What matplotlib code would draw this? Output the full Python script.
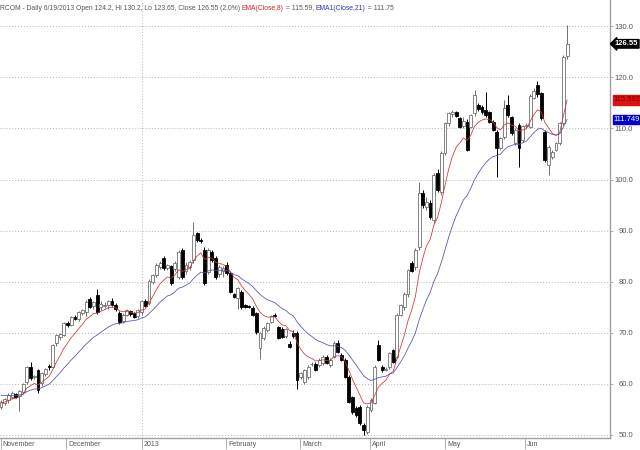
import matplotlib
matplotlib.use('Agg')
import matplotlib.pyplot as plt
import matplotlib.transforms as mtransforms
from matplotlib import font_manager
import numpy as np

# ---- data ----
opens = [55.5, 56.3, 56.8, 57.4, 58.0, 57.6, 58.5, 60.4, 63.3, 61.3,
         62.7, 60.2, 61.9, 63.5, 63.4, 68.0, 69.2, 69.6, 71.9, 71.6,
         73.1, 72.7, 73.8, 74.0, 76.6, 75.2, 77.4, 75.0, 75.3, 75.4,
         76.3, 75.5, 73.9, 72.4, 73.5, 74.2, 73.8, 73.2, 74.0, 76.3,
         75.8, 80.0, 81.3, 82.8, 84.6, 82.6, 83.0, 82.5, 81.0, 86.2,
         82.0, 82.8, 84.2, 89.5, 88.2, 86.2, 81.9, 85.9, 84.6, 81.6,
         82.0, 83.3, 81.7, 77.6, 76.8, 78.0, 75.4, 75.3, 74.8, 73.8,
         67.0, 69.0, 70.5, 72.2, 73.4, 71.1, 70.8, 69.3, 67.8, 70.0,
         70.0, 61.4, 60.4, 61.4, 63.8, 63.9, 63.7, 64.0, 65.3, 63.7,
         65.3, 68.0, 65.7, 64.7, 61.4, 57.4, 55.3, 55.5, 52.0, 50.6,
         54.9, 56.3, 67.6, 63.3, 62.8, 63.3, 66.6, 65.3, 73.5, 75.0,
         77.5, 83.7, 82.8, 86.8, 97.4, 94.6, 95.4, 92.0, 101.3, 97.6,
         105.2, 111.0, 112.8, 113.2, 112.0, 110.4, 111.2, 110.3, 113.0, 114.6,
         114.2, 113.6, 113.2, 111.3, 109.3, 106.2, 108.3, 114.6, 112.2, 107.1,
         110.7, 107.7, 110.5, 110.3, 116.0, 118.5, 116.9, 109.3, 102.8, 104.4,
         105.8, 107.1, 111.0, 124.2]
highs = [56.8, 57.3, 58.3, 58.6, 58.3, 58.9, 60.2, 63.5, 64.3, 61.8,
         63.0, 62.3, 63.2, 63.8, 67.8, 69.8, 70.0, 72.2, 72.3, 73.2,
         73.4, 74.2, 74.6, 76.5, 77.1, 76.2, 78.6, 76.2, 76.0, 76.4,
         76.8, 75.8, 74.3, 73.8, 74.6, 74.5, 74.0, 74.6, 76.4, 76.7,
         80.5, 81.6, 83.6, 84.0, 85.0, 83.5, 83.3, 84.0, 86.3, 86.6,
         83.8, 84.2, 91.7, 89.8, 88.6, 86.8, 86.6, 86.3, 85.0, 83.2,
         83.0, 83.8, 82.0, 77.8, 78.9, 78.3, 75.6, 75.5, 75.3, 74.1,
         70.2, 71.3, 72.2, 73.4, 73.8, 71.4, 71.2, 71.0, 68.3, 70.6,
         70.3, 62.4, 62.9, 63.6, 64.2, 64.2, 65.0, 65.6, 65.6, 65.0,
         68.3, 68.6, 66.0, 65.0, 61.7, 57.7, 55.6, 55.8, 52.3, 55.8,
         57.2, 63.6, 68.6, 63.6, 63.3, 66.3, 66.9, 73.8, 75.7, 78.0,
         82.5, 84.0, 86.5, 99.5, 98.0, 96.5, 96.0, 101.3, 102.0, 105.5,
         111.2, 113.2, 113.6, 113.5, 112.3, 112.3, 111.8, 112.8, 117.5, 115.0,
         114.6, 117.1, 113.5, 111.6, 109.6, 108.4, 115.6, 116.6, 112.5, 110.0,
         111.0, 110.7, 111.0, 116.7, 118.0, 119.3, 117.2, 109.6, 106.7, 105.7,
         107.4, 111.3, 124.3, 130.2]
lows = [55.0, 55.8, 56.2, 57.0, 57.3, 54.6, 58.0, 60.0, 60.8, 60.9,
        58.2, 59.5, 61.5, 62.8, 63.2, 67.5, 68.6, 69.3, 71.2, 71.3,
        72.5, 72.3, 73.5, 73.2, 74.8, 74.6, 73.6, 74.5, 74.8, 74.6,
        75.2, 74.2, 71.8, 72.0, 73.2, 73.2, 72.8, 72.8, 73.5, 75.0,
        75.5, 79.5, 81.0, 82.5, 82.3, 82.3, 79.3, 82.0, 80.5, 80.5,
        81.5, 82.3, 83.7, 87.8, 87.6, 79.4, 81.5, 83.8, 80.6, 81.0,
        81.0, 81.4, 77.8, 76.9, 74.7, 74.6, 74.9, 74.8, 73.2, 69.8,
        64.9, 68.6, 70.2, 71.9, 73.0, 68.7, 69.0, 69.0, 67.0, 69.0,
        59.0, 61.0, 60.0, 61.0, 63.5, 62.6, 63.3, 63.7, 63.8, 63.4,
        65.0, 66.0, 64.4, 61.1, 56.2, 54.2, 53.6, 52.0, 49.9, 50.2,
        54.5, 56.0, 64.4, 62.4, 62.5, 63.0, 64.0, 65.0, 73.2, 74.5,
        77.0, 81.8, 82.3, 86.2, 94.4, 94.0, 92.2, 91.5, 97.5, 97.0,
        104.8, 110.5, 112.3, 112.2, 110.0, 110.0, 105.5, 110.0, 112.5, 113.5,
        112.9, 112.3, 111.0, 109.4, 100.5, 105.8, 108.0, 112.3, 108.8, 106.8,
        102.4, 107.4, 110.1, 110.0, 115.7, 116.2, 111.7, 103.5, 100.9, 104.0,
        105.5, 106.8, 110.7, 123.65]
closes = [56.5, 57.0, 57.8, 58.3, 57.5, 58.6, 60.0, 63.3, 61.2, 61.6,
          58.8, 62.1, 63.0, 63.3, 67.6, 69.6, 69.8, 72.0, 71.5, 73.0,
          72.7, 74.0, 74.5, 76.1, 75.0, 76.0, 74.0, 75.6, 75.5, 76.2,
          75.4, 74.6, 72.2, 73.5, 74.4, 73.6, 73.0, 74.4, 76.2, 75.3,
          80.2, 81.3, 83.2, 83.7, 82.7, 83.2, 79.8, 83.6, 85.8, 81.0,
          83.3, 83.8, 89.1, 88.2, 88.0, 79.7, 86.2, 84.2, 81.0, 82.8,
          82.6, 81.7, 78.0, 77.1, 78.8, 75.0, 75.1, 75.0, 73.5, 70.2,
          70.0, 71.0, 72.0, 73.2, 73.2, 69.0, 69.2, 70.8, 67.2, 69.3,
          60.8, 62.1, 62.7, 63.3, 63.9, 62.8, 64.7, 65.3, 64.0, 64.7,
          68.0, 66.2, 64.7, 61.4, 56.5, 54.5, 53.9, 52.3, 51.0, 55.5,
          56.8, 63.3, 64.7, 62.7, 62.9, 66.0, 64.3, 73.5, 75.4, 77.5,
          82.2, 82.0, 86.2, 97.4, 95.0, 95.6, 92.7, 100.9, 97.9, 105.2,
          111.0, 113.0, 113.3, 112.4, 110.3, 111.5, 105.8, 112.6, 116.5, 113.8,
          113.2, 112.6, 111.3, 109.7, 106.2, 108.1, 114.0, 112.6, 109.1, 109.7,
          106.2, 110.4, 110.7, 116.4, 117.4, 116.8, 112.0, 103.8, 106.4, 105.4,
          107.1, 111.0, 124.0, 126.55]

ema8_seed = 56.2     # indicator values just before the first visible bar
ema21_seed = 57.9

title_main = 'RCOM - Daily 6/19/2013 Open 124.2, Hi 130.2, Lo 123.65, Close 126.55 (2.0%) '
title_ema8 = 'EMA(Close,8)'
title_ema8_val = ' = 115.59, '
title_ema21 = 'EMA1(Close,21)'
title_ema21_val = ' = 111.75'

month_names = ['November', 'December', '2013', 'February', 'March', 'April', 'May', 'Jun']
month_pos = [-0.1, 17.6, 38.1, 60.8, 80.8, 99.7, 120.0, 141.6]
price_ticks = [50, 60, 70, 80, 90, 100, 110, 120, 130]


def ema(values, span, seed):
    alpha = 2.0 / (span + 1.0)
    out = []
    prev = seed
    for v in values:
        prev = prev + alpha * (v - prev)
        out.append(prev)
    return np.array(out)


o = np.array(opens); h = np.array(highs); l = np.array(lows); c = np.array(closes)
idx = np.arange(len(c))
ema8 = ema(c, 8, ema8_seed)
ema21 = ema(c, 21, ema21_seed)

plt.rcParams['font.family'] = ['Liberation Sans', 'DejaVu Sans']
installed = {f.name for f in font_manager.fontManager.ttflist}
if 'Liberation Sans Narrow' in installed:
    title_family = ['Liberation Sans Narrow', 'Liberation Sans']
    title_size = 5.6
else:
    title_family = ['Liberation Sans', 'DejaVu Sans']
    title_size = 4.85

fig = plt.figure(figsize=(6.4, 4.5), dpi=100)
fig.patch.set_facecolor('white')
ax = fig.add_axes([0, 12 / 450, 610 / 640, 438 / 450])
ax.set_xlim(-0.27, 164.6)
ax.set_ylim(49.41, 135.13)

# grid
for v in price_ticks:
    ax.axhline(v, color='#b4b4b4', lw=0.7, ls=(0, (1, 2)), zorder=0)
ax.axvline(month_pos[2], color='#b4b4b4', lw=0.7, ls=(0, (1, 2)), zorder=0)

# candles
up = c >= o
wick_col = np.where(up, '#707070', '#000000')
ax.vlines(idx, l, h, colors=wick_col, lw=0.7, zorder=2)
bottoms = np.minimum(o, c)
heights = np.abs(c - o)
face = np.where(up, '#ffffff', '#000000')
edge = np.where(up, '#707070', '#000000')
ax.bar(idx, heights, bottom=bottoms, width=0.8, color=face, edgecolor=edge,
       linewidth=0.6, zorder=3)

# EMA lines
ax.plot(idx, ema8, color='#cc3333', lw=0.55, zorder=4)
ax.plot(idx, ema21, color='#5050a8', lw=0.55, zorder=4)

# spines
for s in ['top', 'left']:
    ax.spines[s].set_visible(False)
for s in ['right', 'bottom']:
    ax.spines[s].set_color('#a0a0a0')
    ax.spines[s].set_linewidth(1.0)

# y axis on right
ax.yaxis.tick_right()
ax.set_yticks(price_ticks)
ax.set_yticklabels([f'{v:.1f}' for v in price_ticks])
ax.tick_params(axis='y', direction='out', length=2.2, width=0.6, color='#a0a0a0',
               labelsize=5.5, labelcolor='#555555', pad=14.4)
for lbl in ax.get_yticklabels():
    lbl.set_horizontalalignment('right')

# x axis month ticks
ax.set_xticks(month_pos)
ax.set_xticklabels([''] * len(month_pos))
ax.tick_params(axis='x', direction='out', length=8, width=0.6, color='#a0a0a0')
tr_x = mtransforms.blended_transform_factory(ax.transData, ax.transAxes)
for p, name in zip(month_pos, month_names):
    ax.text(p + 0.55, -6 / 438, name, transform=tr_x, ha='left', va='center',
            fontsize=5, color='#555555', clip_on=False)

# price tags at right
tr_y = mtransforms.blended_transform_factory(ax.transAxes, ax.transData)
ax.text(1.008, c[-1], f'{c[-1]:.2f}', transform=tr_y, ha='left', va='center',
        fontsize=5.5, color='white', fontweight='bold', clip_on=False,
        bbox=dict(boxstyle='larrow,pad=0.1', fc='black', ec='black'))
ax.text(1.006, ema8[-1], f'{ema8[-1]:.3f}', transform=tr_y, ha='left', va='center',
        fontsize=5.5, color='#7a0000', clip_on=False,
        bbox=dict(boxstyle='square,pad=0.15', fc='#dd1111', ec='#dd1111'))
ax.text(1.006, ema21[-1], f'{ema21[-1]:.3f}', transform=tr_y, ha='left', va='center',
        fontsize=5.5, color='white', clip_on=False,
        bbox=dict(boxstyle='square,pad=0.15', fc='#0000cc', ec='#0000cc'))

# title line (coloured pieces chained one after another)
parts = [(title_ema8, '#dd2222'), (title_ema8_val, '#555555'),
         (title_ema21, '#3333aa'), (title_ema21_val, '#555555')]
anchor = fig.text(0.0, 1 - 8 / 450, title_main, color='#555555', family=title_family,
                  fontsize=title_size, ha='left', va='center')
for txt, col in parts:
    anchor = ax.annotate(txt, xy=(1, 0.5), xycoords=anchor, ha='left', va='center',
                         fontsize=title_size, family=title_family, color=col,
                         annotation_clip=False)

fig.savefig('out.png', dpi=100, facecolor='white')
